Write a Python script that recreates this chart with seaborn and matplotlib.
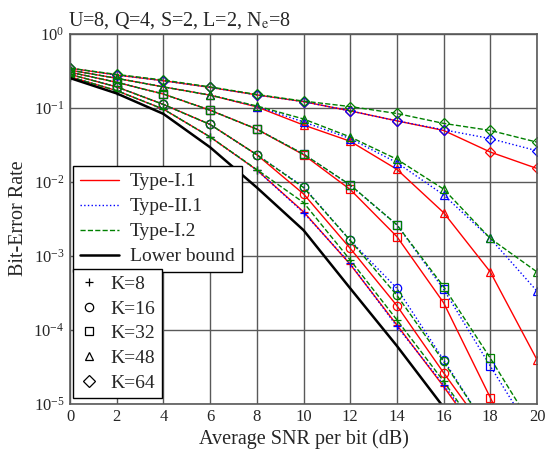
import numpy as np
import pandas as pd
import matplotlib
matplotlib.use("Agg")
import matplotlib.pyplot as plt
from matplotlib.lines import Line2D
import seaborn as sns

snr_db = [0, 2, 4, 6, 8, 10, 12, 14, 16, 18, 20]
k_values = [8, 16, 32, 48, 64]
k_markers = {8: "+", 16: "o", 32: "s", 48: "^", 64: "D"}

N = None
type_i1 = {
    8:  [0.26, 0.169, 0.095, 0.040, 0.0143, 0.0039, 7.6e-4, 1.15e-4, 1.7e-5, 2.2e-6, N],
    16: [0.28, 0.19, 0.11, 0.059, 0.023, 0.0068, 1.25e-3, 2.1e-4, 2.6e-5, 3.5e-6, N],
    32: [0.30, 0.219, 0.152, 0.092, 0.051, 0.023, 7.8e-3, 1.8e-3, 2.3e-4, 1.2e-5, 6e-7],
    48: [0.32, 0.248, 0.19, 0.147, 0.102, 0.058, 0.035, 0.0146, 0.0038, 6.0e-4, 3.9e-5],
    64: [0.34, 0.275, 0.23, 0.187, 0.148, 0.12, 0.090, 0.066, 0.049, 0.025, 0.015],
}
type_ii1 = {
    8:  [0.26, 0.169, 0.095, 0.040, 0.0143, 0.0038, 7.8e-4, 1.1e-4, 1.8e-5, 2.5e-6, N],
    16: [0.28, 0.19, 0.11, 0.059, 0.023, 0.0085, 1.6e-3, 3.6e-4, 3.9e-5, 4e-6, N],
    32: [0.30, 0.219, 0.152, 0.092, 0.051, 0.0235, 8.9e-3, 2.6e-3, 3.5e-4, 3.2e-5, 3.1e-6],
    48: [0.32, 0.248, 0.19, 0.147, 0.103, 0.064, 0.038, 0.018, 0.0066, 0.0017, 3.3e-4],
    64: [0.34, 0.275, 0.23, 0.187, 0.148, 0.12, 0.090, 0.066, 0.050, 0.038, 0.026],
}
type_i2 = {
    8:  [0.26, 0.169, 0.095, 0.040, 0.0145, 0.0052, 8.7e-4, 1.35e-4, 2.0e-5, 2.5e-6, N],
    16: [0.28, 0.19, 0.11, 0.059, 0.023, 0.0083, 1.6e-3, 2.9e-4, 3.7e-5, 4e-6, N],
    32: [0.30, 0.219, 0.152, 0.092, 0.051, 0.0235, 9.0e-3, 2.6e-3, 3.8e-4, 4.1e-5, 3.9e-6],
    48: [0.32, 0.248, 0.19, 0.147, 0.105, 0.070, 0.040, 0.020, 0.0079, 0.0017, 6.0e-4],
    64: [0.34, 0.28, 0.235, 0.19, 0.15, 0.122, 0.103, 0.083, 0.061, 0.049, 0.034],
}
lower_bound = [0.25, 0.155, 0.082, 0.029, 0.0083, 0.0022, 3.6e-4, 6.0e-5, 8.9e-6, N, N]

type_names = ["Type-I.1", "Type-II.1", "Type-I.2"]
type_data = [type_i1, type_ii1, type_i2]
type_colors = ["#ff0000", "#0000ff", "#008000"]
type_styles = ["-", ":", "--"]

sns.set_theme(style="white")
plt.rcParams["font.family"] = ["Liberation Serif", "DejaVu Serif"]
plt.rcParams["mathtext.fontset"] = "stix"

fig = plt.figure(figsize=(5.57, 4.51), dpi=100)
ax = fig.add_axes([0.1257, 0.1053, 0.8384, 0.8204])

for name, data, col, ls in zip(type_names, type_data, type_colors, type_styles):
    for k in k_values:
        df = pd.DataFrame({"snr": snr_db, "ber": [np.nan if v is None else v for v in data[k]]}).dropna()
        sns.lineplot(data=df, x="snr", y="ber", ax=ax, color=col, linestyle=ls,
                     linewidth=1.0, marker=k_markers[k], markersize=6 if k != 64 else 5.5,
                     markerfacecolor="none", markeredgecolor=col, markeredgewidth=0.9,
                     legend=False)

dflb = pd.DataFrame({"snr": snr_db, "ber": [np.nan if v is None else v for v in lower_bound]}).dropna()
sns.lineplot(data=dflb, x="snr", y="ber", ax=ax, color="black", linewidth=1.8, legend=False)

ax.set_yscale("log")
ax.set_xlim(0, 20)
ax.set_ylim(1e-5, 1)
ax.set_xticks(snr_db)
ax.grid(True, which="major", color="0.35", linewidth=1.0)
ax.minorticks_off()
for s in ax.spines.values():
    s.set_color("0.35")
    s.set_linewidth(1.2)
ax.tick_params(labelsize=12, length=0, pad=4)
ax.set_xlabel("Average SNR per bit (dB)", fontsize=14.5, labelpad=3)
ax.set_ylabel("Bit-Error Rate", fontsize=14.5, labelpad=4)
ax.set_title(r"U=8, Q=4, S=2, L=2, N$_\mathrm{e}$=8", fontsize=14.5, loc="left", x=-0.005, pad=6)

h1 = [Line2D([], [], color=c, linestyle=l, linewidth=1.0) for c, l in zip(type_colors, type_styles)]
h1.append(Line2D([], [], color="black", linewidth=1.8))
leg1 = ax.legend(h1, type_names + ["Lower bound"], loc="upper left",
                 bbox_to_anchor=(0.006, 0.642), fontsize=14, frameon=True, fancybox=False,
                 edgecolor="black", framealpha=1, borderpad=0.35, labelspacing=0.38,
                 handlelength=2.0, handletextpad=0.6, borderaxespad=0)
leg1.get_frame().set_linewidth(1.0)
ax.add_artist(leg1)

h2 = [Line2D([], [], color="black", linestyle="none", marker=k_markers[k], markersize=6,
             markerfacecolor="none", markeredgewidth=0.9) for k in k_values]
leg2 = ax.legend(h2, [f"K={k}" for k in k_values], loc="lower left",
                 bbox_to_anchor=(0.006, 0.014), fontsize=14, frameon=True, fancybox=False,
                 edgecolor="black", framealpha=1, borderpad=0.35, labelspacing=0.36,
                 handlelength=1.0, handletextpad=0.6, borderaxespad=0)
leg2.get_frame().set_linewidth(1.0)

fig.savefig("out.png", dpi=100)
